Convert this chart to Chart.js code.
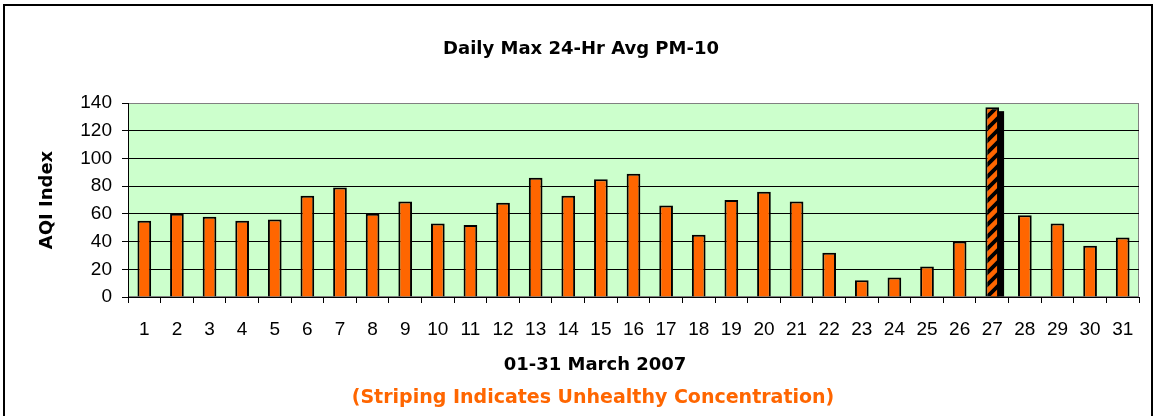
<!DOCTYPE html>
<html>
<head>
<meta charset="utf-8">
<script src="https://cdn.jsdelivr.net/npm/chart.js@4/dist/chart.umd.min.js"></script>
<style>
    html, body { margin: 0; padding: 0; background: #fff; }
    #wrap { position: relative; width: 1156px; height: 416px; overflow: hidden; }
    #chart { position: absolute; left: 0; top: 0; }
    #frame {
        position: absolute; left: 3px; top: 4px; width: 1150px; height: 460px;
        border: 2px solid #000; box-sizing: border-box; pointer-events: none;
    }
</style>
</head>
<body>
<div id="wrap">
    <canvas id="chart" width="1156" height="416"></canvas>
    <div id="frame"></div>
</div>
<script>
// Days of March 2007
const DAYS = ['1', '2', '3', '4', '5', '6', '7', '8', '9', '10', '11', '12', '13', '14', '15', '16',
    '17', '18', '19', '20', '21', '22', '23', '24', '25', '26', '27', '28', '29', '30', '31'];

// Daily max 24-hr avg PM-10, AQI
const AQI_VALUES = [55, 60, 58, 55, 56, 73, 79, 60, 69, 53, 52, 68, 86, 73, 85, 89,
    66, 45, 70, 76, 69, 32, 12, 14, 22, 40, 137, 59, 53, 37, 43];

// Y axis tick values
const Y_TICKS = [0, 20, 40, 60, 80, 100, 120, 140];

// Above this the bar is striped (unhealthy)
const UNHEALTHY_LEVEL = 100;

const X_TITLE = '01-31 March 2007';
const NOTE = '(Striping Indicates Unhealthy Concentration)';

const TITLE_FONT = { family: '"DejaVu Sans", sans-serif', size: 18, weight: 'bold', lineHeight: 1.2 };
const TICK_FONT = { family: '"Liberation Sans", Arial, sans-serif', size: 19, lineHeight: 1.2 };

// Orange with black "/" stripes
function makeStripes() {
    const c = document.createElement('canvas');
    c.width = 12;
    c.height = 12;
    const g = c.getContext('2d');
    g.fillStyle = '#FF6600';
    g.fillRect(0, 0, 12, 12);
    g.strokeStyle = '#000';
    g.lineWidth = 3.8;
    g.beginPath();
    g.moveTo(-3, 15); g.lineTo(15, -3);
    g.moveTo(-9, 9); g.lineTo(9, -9);
    g.moveTo(3, 21); g.lineTo(21, 3);
    g.stroke();
    return g.createPattern(c, 'repeat');
}

// Light green plot area with grey frame
const plotBackground = {
    id: 'plotBackground',
    beforeDraw(chart) {
        const { ctx, chartArea: a } = chart;
        ctx.save();
        ctx.fillStyle = '#CCFFCC';
        ctx.fillRect(a.left, a.top, a.right - a.left, a.bottom - a.top);
        ctx.strokeStyle = '#808080';
        ctx.lineWidth = 1;
        ctx.strokeRect(a.left + 0.5, a.top + 0.5, a.right - a.left - 1, a.bottom - a.top - 1);
        ctx.restore();
    }
};

// Black drop shadow behind unhealthy bars
const barShadow = {
    id: 'barShadow',
    beforeDatasetsDraw(chart) {
        const ctx = chart.ctx;
        const meta = chart.getDatasetMeta(0);
        ctx.save();
        ctx.fillStyle = '#000';
        meta.data.forEach((bar, i) => {
            if (AQI_VALUES[i] <= UNHEALTHY_LEVEL) return;
            const p = bar.getProps(['x', 'y', 'base', 'width'], true);
            ctx.fillRect(p.x - p.width / 2 + 5, p.y + 4, p.width, p.base - p.y - 4);
        });
        ctx.restore();
    }
};

// Axis caption and note below the chart (not centred on the plot in the original)
const captions = {
    id: 'captions',
    afterDraw(chart) {
        const { ctx, chartArea: a } = chart;
        ctx.save();
        ctx.textAlign = 'center';
        ctx.textBaseline = 'middle';
        ctx.font = 'bold 18px "DejaVu Sans", sans-serif';
        ctx.fillStyle = '#000';
        ctx.fillText(X_TITLE, 595, a.bottom + 68.3);
        ctx.font = 'bold 19px "DejaVu Sans", sans-serif';
        ctx.fillStyle = '#FF6600';
        ctx.fillText(NOTE, 593, a.bottom + 100.8);
        ctx.restore();
    }
};

const stripes = makeStripes();

new Chart(document.getElementById('chart').getContext('2d'), {
    type: 'bar',
    data: {
        labels: DAYS,
        datasets: [{
            data: AQI_VALUES,
            backgroundColor: ctx => (AQI_VALUES[ctx.dataIndex] > UNHEALTHY_LEVEL ? stripes : '#FF6600'),
            borderColor: '#000',
            borderWidth: 2,
            barPercentage: 0.42,
            categoryPercentage: 1
        }]
    },
    options: {
        responsive: false,
        devicePixelRatio: 1,
        animation: false,
        events: [],
        layout: { padding: { left: 6, right: 0, top: 0, bottom: 0 } },
        plugins: {
            legend: { display: false },
            tooltip: { enabled: false },
            title: {
                display: true,
                text: 'Daily Max 24-Hr Avg PM-10',
                color: '#000',
                font: TITLE_FONT,
                padding: { top: 38.2, bottom: 43.2 }
            }
        },
        scales: {
            x: {
                offset: true,
                grid: {
                    offset: true,
                    drawOnChartArea: false,
                    drawTicks: true,
                    tickLength: 6,
                    tickColor: '#000'
                },
                border: { color: '#000', width: 1 },
                ticks: {
                    color: '#000',
                    font: TICK_FONT,
                    padding: 15,
                    autoSkip: false,
                    maxRotation: 0
                },
                afterFit: scale => { scale.height = 119; }
            },
            y: {
                min: 0,
                max: 140,
                afterBuildTicks: scale => { scale.ticks = Y_TICKS.map(v => ({ value: v })); },
                grid: {
                    color: ctx => (ctx.tick && ctx.tick.value === 140 ? '#808080' : '#000'),
                    tickColor: '#000',
                    tickLength: 6,
                    lineWidth: 1
                },
                border: { color: '#000', width: 1 },
                ticks: {
                    color: '#000',
                    font: TICK_FONT,
                    padding: 10
                },
                title: {
                    display: true,
                    text: 'AQI Index',
                    color: '#000',
                    font: TITLE_FONT,
                    padding: { top: 30.2, bottom: 0 }
                },
                afterFit: scale => { scale.width = 122; }
            },
            // empty right-hand margin so the title centres like the original
            yRight: {
                position: 'right',
                display: true,
                grid: { display: false, drawTicks: false },
                border: { display: false },
                ticks: { display: false },
                afterFit: scale => { scale.width = 17; }
            }
        }
    },
    plugins: [plotBackground, barShadow, captions]
});
</script>
</body>
</html>
